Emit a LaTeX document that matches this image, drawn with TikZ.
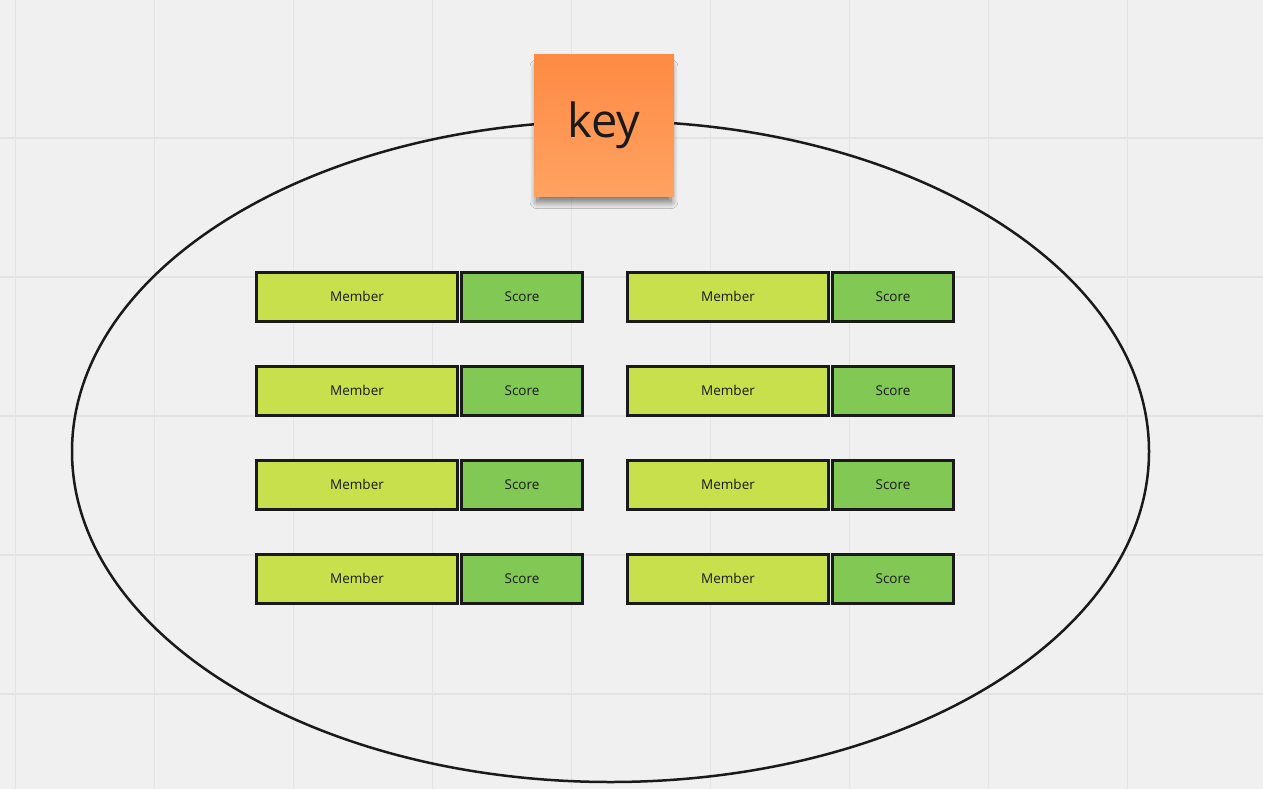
\documentclass[tikz,border=0pt]{standalone}
\usepackage{fontspec}
\setmainfont{Open Sans}
\usetikzlibrary{positioning,shadows.blur}
\definecolor{boardbg}{HTML}{F0F0F0}
\definecolor{gridln}{HTML}{E3E3E3}
\definecolor{inkblk}{HTML}{1A1A1A}
\definecolor{memberfill}{HTML}{C8E04C}
\definecolor{scorefill}{HTML}{82C855}
\definecolor{stickytop}{HTML}{FF8A43}
\definecolor{stickybot}{HTML}{FFA262}
\tikzset{
  memberbox/.style={draw=inkblk, line width=3pt, fill=memberfill, minimum width=201pt,
    minimum height=49pt, inner sep=0pt, font=\fontsize{13.5}{16}\selectfont, text=inkblk},
  scorebox/.style={memberbox, fill=scorefill, minimum width=121pt},
}
\begin{document}
\begin{tikzpicture}[x=1pt,y=-1pt]
        \useasboundingbox (0,0) rectangle (1263,789);
        \fill[boardbg] (0,0) rectangle (1263,789);
        \foreach \gx in {15.5,154.5,...,1263} \draw[gridln, line width=1.5pt] (\gx,0) -- (\gx,789);
        \foreach \gy in {138,277,...,789} \draw[gridln, line width=1.5pt] (0,\gy) -- (1263,\gy);
        \draw[inkblk, line width=2.5pt] (610.5,451.5) ellipse[x radius=538.5, y radius=330.5];
        \node[minimum width=140pt, minimum height=141pt, inner sep=0pt,
              top color=stickytop, bottom color=stickybot,
              blur shadow={shadow xshift=0pt, shadow yshift=-9pt, shadow blur radius=7pt,
                shadow blur steps=14, shadow opacity=55, shadow scale=0.96},
              font=\fontsize{47}{50}\selectfont, text=inkblk] (key) at (604,125.5) {key};
        \foreach \row/\ry in {1/296.5,2/390.5,3/484.5,4/578.5} {
            \node[memberbox, anchor=west] (memberL\row) at (255,\ry) {Member};
            \node[scorebox, right=1pt of memberL\row] (scoreL\row) {Score};
            \node[memberbox, anchor=west] (memberR\row) at (626,\ry) {Member};
            \node[scorebox, right=1pt of memberR\row] (scoreR\row) {Score};
        }
    \end{tikzpicture}
\end{document}
